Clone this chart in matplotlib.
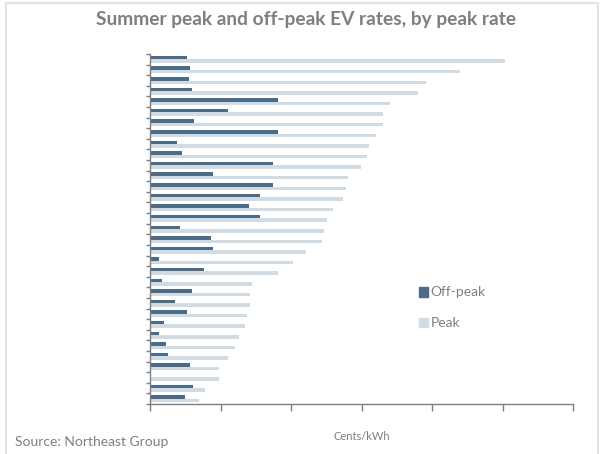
import numpy as np
import matplotlib.pyplot as plt
from matplotlib.patches import Rectangle, Patch

# valeurs (cents/kWh), du haut vers le bas
off_peak = [5.2, 5.7, 5.5, 5.9, 18.2, 11.0, 6.3, 18.2, 3.8, 4.5, 17.4,
            8.9, 17.4, 15.6, 14.0, 15.6, 4.2, 8.6, 8.9, 1.3, 7.7, 1.7,
            5.9, 3.6, 5.2, 2.0, 1.3, 2.2, 2.6, 5.7, 0.0, 6.1, 5.0]
peak = [50.3, 44.0, 39.2, 38.0, 34.1, 33.0, 33.0, 32.0, 31.1, 30.8, 29.9,
        28.1, 27.8, 27.4, 26.0, 25.1, 24.7, 24.4, 22.1, 20.3, 18.2, 14.4,
        14.2, 14.2, 13.8, 13.5, 12.6, 12.1, 11.0, 9.8, 9.8, 7.8, 7.0]

dark = '#4b6b86'
light = '#cfdce6'
grey = '#7f7f7f'

fig = plt.figure(figsize=(6.09, 4.54), dpi=100)
plt.rcParams['font.family'] = ['Lato', 'DejaVu Sans']

# cadre autour du graphique
fig.patches.append(Rectangle((6/609, -0.1), 592/609, 1.1 - 3/454, transform=fig.transFigure,
                             fill=False, edgecolor='#dbe4ec', linewidth=1.5))

ax = fig.add_axes([150/609, 1 - 404/454, 423/609, 350/454])

n = len(peak)
y = np.arange(n)[::-1]
h = 0.33
ax.barh(y + h/2, off_peak, height=h, color=dark, label='Off-peak')
ax.barh(y - h/2, peak, height=h, color=light, label='Peak')

ax.set_xlim(0, 60)
ax.set_ylim(-0.5, n - 0.5)
ax.set_xticks(np.arange(0, 61, 10))
ax.set_xticklabels([])
ax.set_yticks(np.arange(-0.5, n, 1))
ax.set_yticklabels([])
ax.tick_params(axis='x', direction='out', length=5, color=grey, width=1)
ax.tick_params(axis='y', direction='out', length=3, color=grey, width=1)
for s in ['top', 'right']:
    ax.spines[s].set_visible(False)
for s in ['left', 'bottom']:
    ax.spines[s].set_color(grey)
    ax.spines[s].set_linewidth(1)

fig.text(306/609, 1 - 20/454, 'Summer peak and off-peak EV rates, by peak rate',
         ha='center', va='center', fontsize=13.8, fontweight='bold', color=grey)

handles = [Patch(color=dark, label='Off-peak'), Patch(color=light, label='Peak')]
fig.legend(handles=handles, loc='upper left', bbox_to_anchor=(406/609, 1 - 274/454),
           frameon=False, fontsize=10, labelcolor=grey, handlelength=0.7,
           handleheight=0.7, handletextpad=0.15, labelspacing=1.35)

fig.text(15/609, 1 - 442/454, 'Source: Northeast Group', ha='left', va='center',
         fontsize=10, color=grey)
fig.text(362/609, 1 - 437/454, 'Cents/kWh', ha='center', va='center',
         fontsize=8, color=grey)

fig.savefig('out.png', dpi=100)
